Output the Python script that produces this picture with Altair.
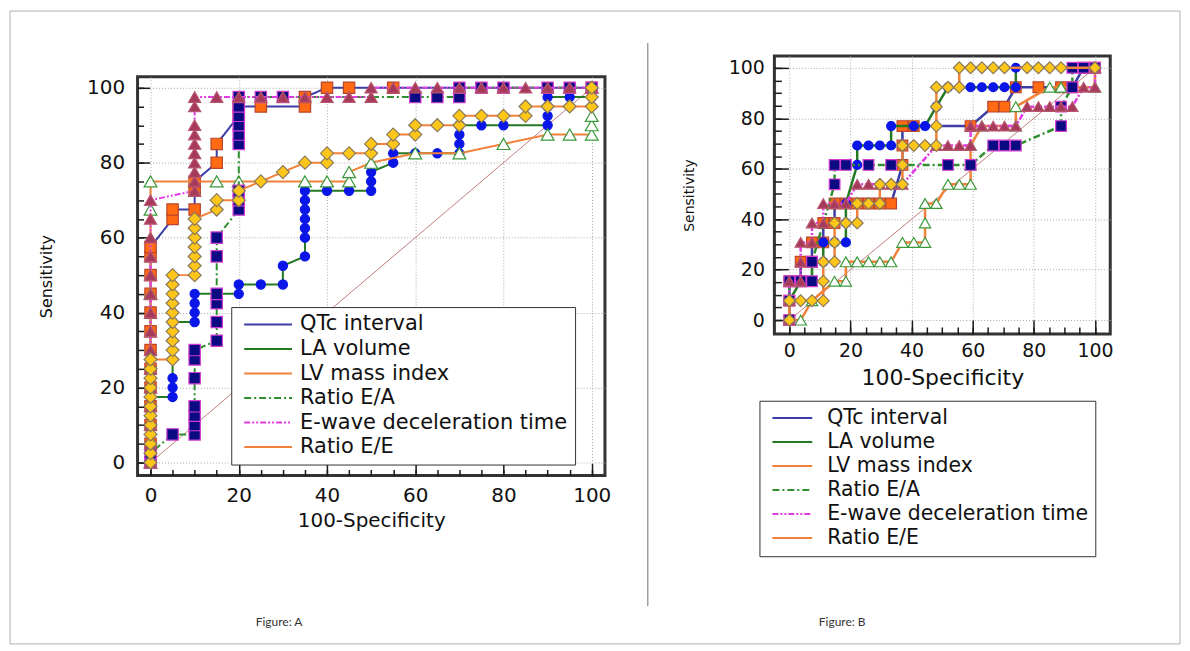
import altair as alt
import pandas as pd

FONT = "DejaVu Sans"
SERIES = ["QTc interval", "LA volume", "LV mass index", "Ratio E/A",
          "E-wave deceleration time", "Ratio E/E"]
LINE_COLORS = ["#3c3ca6", "#237a23", "#f2813a", "#2f8f2f", "#e33be3", "#f2813a"]
DASHES = [[1, 0], [1, 0], [1, 0], [7, 3, 2, 3], [6, 2, 2, 2, 2, 2], [1, 0]]
MAJOR_TICKS = [0, 20, 40, 60, 80, 100]
MINOR_TICKS = [0, 5, 10, 15, 20, 25, 30, 35, 40, 45, 50, 55, 60, 65, 70, 75, 80, 85, 90, 95, 100]
DIAG_X = [0, 100]
DIAG_Y = [0, 100]

# ---------------- Figure A ----------------
A_QTC_X = [0, 0, 0, 0, 0, 0, 0, 0, 0, 0, 0, 0, 0, 5, 5, 10, 10, 10, 15, 15, 20, 20, 25, 35, 35, 40, 45, 55, 100]
A_QTC_Y = [0, 5, 10, 15, 20, 25, 30, 35, 40, 45, 50, 55, 57.5, 65, 67.5, 67.5, 72.5, 75, 80, 85, 92.5, 95, 95, 95, 97.5, 100, 100, 100, 100]

A_LA_X = [0, 0, 5, 5, 5, 5, 10, 10, 10, 10, 15, 20, 20, 25, 30, 30, 35, 35, 35, 35, 35, 35, 35, 40, 45, 50, 50, 50,
          55, 55, 60, 65, 70, 70, 70, 70, 75, 80, 90, 90, 90, 90, 95, 100, 100]
A_LA_Y = [0, 17.5, 17.5, 20, 22.5, 37.5, 37.5, 40, 42.5, 45, 45, 45, 47.5, 47.5, 47.5, 52.5, 55, 60, 62.5, 65, 67.5, 70,
          72.5, 72.5, 72.5, 72.5, 75, 77.5, 80, 82.5, 82.5, 82.5, 82.5, 85, 87.5, 90, 90, 90, 90, 92.5, 95, 97.5, 97.5,
          97.5, 100]

A_LV_X = [0, 0, 0, 0, 15, 20, 35, 40, 45, 45, 50, 60, 70, 80, 90, 95, 100, 100, 100, 100]
A_LV_Y = [0, 45, 67.5, 75, 75, 75, 75, 75, 75, 77.5, 80, 82.5, 82.5, 85, 87.5, 87.5, 87.5, 90, 92.5, 100]

A_EA_X = [0, 0, 5, 10, 10, 10, 10, 10, 10, 10, 15, 15, 15, 15, 15, 15, 20, 20, 20, 20, 20, 20, 20, 20, 20, 25, 30, 60,
          65, 70, 70, 75, 80, 90, 95, 100]
A_EA_Y = [0, 2.5, 7.5, 7.5, 10, 12.5, 15, 22.5, 27.5, 30, 32.5, 37.5, 42.5, 45, 55, 60, 67.5, 70, 72.5, 85, 87.5, 90,
          92.5, 95, 97.5, 97.5, 97.5, 97.5, 97.5, 97.5, 100, 100, 100, 100, 100, 100]

A_EW_X = [0, 0, 0, 0, 0, 0, 0, 0, 0, 0, 0, 0, 0, 0, 0, 10, 10, 10, 10, 10, 10, 10, 10, 10, 10, 15, 20, 25, 30, 35, 40,
          45, 50, 50, 55, 60, 65, 70, 75, 80, 85, 90, 95, 100]
A_EW_Y = [0, 5, 10, 15, 20, 25, 30, 35, 40, 45, 50, 55, 60, 65, 70, 72.5, 75, 77.5, 80, 82.5, 85, 87.5, 90, 95, 97.5,
          97.5, 97.5, 97.5, 97.5, 97.5, 97.5, 97.5, 97.5, 100, 100, 100, 100, 100, 100, 100, 100, 100, 100, 100]

A_EE_X = [0, 0, 0, 0, 0, 0, 0, 0, 0, 0, 0, 0, 5, 5, 5, 5, 5, 5, 5, 5, 5, 5, 10, 10, 10, 10, 10, 10, 10, 15, 15, 20, 20,
          25, 30, 35, 40, 40, 45, 50, 50, 55, 55, 60, 60, 65, 70, 70, 75, 80, 85, 85, 90, 95, 100, 100, 100]
A_EE_Y = [0, 2.5, 5, 7.5, 10, 12.5, 15, 17.5, 20, 22.5, 25, 27.5, 27.5, 30, 32.5, 35, 37.5, 40, 42.5, 45, 47.5, 50, 50,
          52.5, 55, 57.5, 60, 62.5, 65, 67.5, 70, 70, 72.5, 75, 77.5, 80, 80, 82.5, 82.5, 82.5, 85, 85, 87.5, 87.5, 90,
          90, 90, 92.5, 92.5, 92.5, 92.5, 95, 95, 95, 95, 97.5, 100]

# ---------------- Figure B ----------------
B_QTC_X = [0, 0, 0, 3.7, 3.7, 7.4, 7.4, 11.1, 11.1, 14.8, 14.8, 18.5, 22.2, 25.9, 29.6, 33.3, 37.0, 37.0, 37.0, 40.7,
           59.3, 66.7, 70.4, 74.1, 81.5, 88.9, 92.6, 96.3, 100]
B_QTC_Y = [0, 7.7, 15.4, 15.4, 23.1, 23.1, 30.8, 30.8, 38.5, 38.5, 46.2, 46.2, 46.2, 46.2, 46.2, 46.2, 61.5, 69.2, 76.9,
           76.9, 76.9, 84.6, 84.6, 92.3, 92.3, 92.3, 92.3, 100, 100]

B_LA_X = [0, 0, 3.7, 7.4, 7.4, 11.1, 11.1, 14.8, 18.5, 18.5, 18.5, 22.2, 22.2, 25.9, 29.6, 33.3, 33.3, 40.7, 44.4,
          48.1, 51.9, 59.3, 63.0, 66.7, 70.4, 74.1, 74.1, 100]
B_LA_Y = [0, 7.7, 15.4, 15.4, 23.1, 23.1, 30.8, 30.8, 30.8, 38.5, 46.2, 61.5, 69.2, 69.2, 69.2, 69.2, 76.9, 76.9, 76.9,
          84.6, 92.3, 92.3, 92.3, 92.3, 92.3, 92.3, 100, 100]

B_LV_X = [0, 3.7, 7.4, 14.8, 18.5, 18.5, 22.2, 25.9, 29.6, 33.3, 37.0, 40.7, 44.4, 44.4, 44.4, 48.1, 51.9, 55.6, 59.3,
          59.3, 59.3, 63.0, 74.1, 74.1, 85.2, 88.9, 100, 100]
B_LV_Y = [0, 0, 7.7, 15.4, 15.4, 23.1, 23.1, 23.1, 23.1, 23.1, 30.8, 30.8, 30.8, 38.5, 46.2, 46.2, 53.8, 53.8, 53.8,
          61.5, 69.2, 76.9, 76.9, 84.6, 92.3, 92.3, 92.3, 100]

B_EA_X = [0, 0, 0, 3.7, 7.4, 7.4, 14.8, 14.8, 18.5, 25.9, 33.3, 51.9, 59.3, 66.7, 70.4, 74.1, 88.9, 88.9, 92.6, 92.6,
          96.3, 100]
B_EA_Y = [0, 7.7, 15.4, 15.4, 15.4, 23.1, 53.8, 61.5, 61.5, 61.5, 61.5, 61.5, 61.5, 69.2, 69.2, 69.2, 76.9, 84.6, 92.3,
          100, 100, 100]

B_EW_X = [0, 0, 0, 3.7, 3.7, 3.7, 7.4, 7.4, 11.1, 11.1, 14.8, 18.5, 22.2, 25.9, 29.6, 33.3, 37.0, 48.1, 51.9, 55.6,
          59.3, 59.3, 63.0, 66.7, 70.4, 74.1, 77.8, 81.5, 85.2, 88.9, 92.6, 96.3, 100, 100]
B_EW_Y = [0, 7.7, 15.4, 15.4, 23.1, 30.8, 30.8, 38.5, 38.5, 46.2, 46.2, 46.2, 53.8, 53.8, 53.8, 53.8, 53.8, 69.2, 69.2,
          69.2, 69.2, 76.9, 76.9, 76.9, 76.9, 76.9, 84.6, 84.6, 84.6, 84.6, 84.6, 92.3, 92.3, 100]

B_EE_X = [0, 0, 3.7, 7.4, 11.1, 11.1, 11.1, 14.8, 14.8, 14.8, 18.5, 22.2, 22.2, 25.9, 29.6, 29.6, 33.3, 37.0, 37.0,
          37.0, 40.7, 44.4, 48.1, 48.1, 48.1, 48.1, 51.9, 55.6, 55.6, 59.3, 63.0, 66.7, 70.4, 77.8, 81.5, 85.2, 88.9, 100]
B_EE_Y = [0, 7.7, 7.7, 7.7, 7.7, 15.4, 23.1, 23.1, 30.8, 38.5, 38.5, 38.5, 46.2, 46.2, 46.2, 53.8, 53.8, 53.8, 61.5,
          69.2, 69.2, 69.2, 69.2, 76.9, 84.6, 92.3, 92.3, 92.3, 100, 100, 100, 100, 100, 100, 100, 100, 100, 100]

MARKERS = [
    dict(shape="square", fill="#ff6a12", stroke="#b9452c"),
    dict(shape="circle", fill="#0a16e8", stroke="#0a16e8"),
    dict(shape="triangle-up", fill="#ffffff", stroke="#3a9a3a"),
    dict(shape="square", fill="#0a0a82", stroke="#d23cd2"),
    dict(shape="triangle-up", fill="#a63a5c", stroke="#b8566e"),
    dict(shape="diamond", fill="#ffc61a", stroke="#8a7a5a"),
]


def make_df(xs_list, ys_list):
    rows = []
    for s, xs, ys in zip(SERIES, xs_list, ys_list):
        for i, (x, y) in enumerate(zip(xs, ys)):
            rows.append({"series": s, "i": i, "x": x, "y": y})
    return pd.DataFrame(rows)


def build_panel(df, cfg, extras):
    xsc = alt.Scale(domain=cfg["xdom"], nice=False, zero=False)
    ysc = alt.Scale(domain=cfg["ydom"], nice=False, zero=False)
    common = dict(domain=False, tickColor="#1a1a1a", tickWidth=1.5)
    major_x = alt.Axis(orient="bottom", values=MAJOR_TICKS, tickSize=cfg["tmaj"], offset=-cfg["tmaj"],
                       labelFont=FONT, labelFontSize=cfg["lfs"], labelColor="#111", labelPadding=cfg["xlp"],
                       labelFlush=False, title="100-Specificity", titleFont=FONT, titleFontSize=cfg["xtfs"],
                       titleFontWeight="normal", titleColor="#111", titlePadding=cfg["xtp"],
                       grid=True, gridColor="#a8a8a8", gridDash=[1, 2], gridWidth=1, **common)
    major_y = alt.Axis(orient="left", values=MAJOR_TICKS, tickSize=cfg["tmaj"], offset=-cfg["tmaj"],
                       labelFont=FONT, labelFontSize=cfg["lfs"], labelColor="#111", labelPadding=cfg["ylp"],
                       labelFlush=False, title="Sensitivity", titleFont=FONT, titleFontSize=cfg["ytfs"],
                       titleFontWeight="normal", titleColor="#111", titlePadding=cfg["ytp"],
                       grid=True, gridColor="#a8a8a8", gridDash=[1, 2], gridWidth=1, **common)
    minor_x = alt.Axis(orient="bottom", values=MINOR_TICKS, tickSize=cfg["tmin"], offset=-cfg["tmin"],
                       labels=False, title=None, grid=False, **common)
    minor_y = alt.Axis(orient="left", values=MINOR_TICKS, tickSize=cfg["tmin"], offset=-cfg["tmin"],
                       labels=False, title=None, grid=False, **common)

    diag = pd.DataFrame({"x": DIAG_X, "y": DIAG_Y})
    layers = [
        alt.Chart(diag).mark_line(color="#c47c7c", strokeWidth=1).encode(
            x=alt.X("x:Q", scale=xsc, axis=major_x), y=alt.Y("y:Q", scale=ysc, axis=major_y)),
        alt.Chart(diag).mark_line(opacity=0).encode(
            x=alt.X("x:Q", scale=xsc, axis=minor_x), y=alt.Y("y:Q", scale=ysc, axis=minor_y)),
    ]
    legend = alt.Legend(title=None, orient="none", legendX=cfg["legx"], legendY=cfg["legy"],
                        symbolType=cfg["sympath"], symbolSize=100, symbolStrokeWidth=2,
                        labelFont=FONT, labelFontSize=cfg["legfs"], labelColor="#111", labelLimit=500,
                        labelOffset=cfg["labeloff"], padding=cfg["legpad"], rowPadding=cfg["rowpad"],
                        fillColor="white", strokeColor="#333333")
    base = alt.Chart(df)
    for k, s in enumerate(SERIES):
        sub = base.transform_filter(alt.datum.series == s)
        layers.append(sub.mark_line(strokeWidth=cfg["lw"]).encode(
            x=alt.X("x:Q", scale=xsc, axis=None),
            y=alt.Y("y:Q", scale=ysc, axis=None),
            stroke=alt.Stroke("series:N", scale=alt.Scale(domain=SERIES, range=LINE_COLORS), legend=legend),
            strokeDash=alt.StrokeDash("series:N", scale=alt.Scale(domain=SERIES, range=DASHES), legend=legend),
            order=alt.Order("i:Q"),
        ))
        m = MARKERS[k]
        layers.append(sub.mark_point(shape=m["shape"], filled=True, fill=m["fill"], stroke=m["stroke"],
                                     strokeWidth=1.2, size=cfg["msize"][k], opacity=1).encode(
            x=alt.X("x:Q", scale=xsc, axis=None),
            y=alt.Y("y:Q", scale=ysc, axis=None),
        ))
    layers.extend(extras)
    return alt.layer(*layers).resolve_axis(x="independent", y="independent").properties(
        width=cfg["w"], height=cfg["h"])


one = pd.DataFrame({"v": [0]})
extras_a = [
    alt.Chart(one).mark_rect(fillOpacity=0, stroke="#b0b0b0", strokeWidth=1).encode(
        x=alt.value(-128), x2=alt.value(1046), y=alt.value(-66), y2=alt.value(569)),
    alt.Chart(one).mark_rule(color="#707070", strokeWidth=1).encode(
        x=alt.value(512), y=alt.value(-34), y2=alt.value(531)),
    alt.Chart(one).mark_text(text="Figure: A", font="Lato", fontSize=12, color="#333").encode(
        x=alt.value(142), y=alt.value(547)),
    alt.Chart(one).mark_text(text="Figure: B", font="Lato", fontSize=12, color="#333").encode(
        x=alt.value(707), y=alt.value(547)),
]

cfg_a = dict(w=469, h=400, xdom=[-2.94, 103.0], ydom=[-3.46, 102.9], tmaj=12, tmin=6, lfs=20, xlp=10, ylp=13,
             xtfs=20, ytfs=16, xtp=5, ytp=32, lw=2, msize=[130, 85, 165, 130, 150, 170],
             legx=94, legy=252, sympath="M-0.9,0H8.7", legfs=21, labeloff=41, legpad=7, rowpad=2.6)
cfg_b = dict(w=337, h=279, xdom=[-4.9, 105.0], ydom=[-5.5, 104.7], tmaj=14, tmin=7, lfs=19, xlp=8, ylp=10,
             xtfs=22, ytfs=14, xtp=7, ytp=32, lw=2.5, msize=[115, 80, 130, 115, 125, 140],
             legx=-15, legy=346, sympath="M-0.85,0H7.15", legfs=20.5, labeloff=40.5, legpad=7, rowpad=3.1)

panel_a = build_panel(make_df([A_QTC_X, A_LA_X, A_LV_X, A_EA_X, A_EW_X, A_EE_X],
                              [A_QTC_Y, A_LA_Y, A_LV_Y, A_EA_Y, A_EW_Y, A_EE_Y]), cfg_a, extras_a)
panel_b = build_panel(make_df([B_QTC_X, B_LA_X, B_LV_X, B_EA_X, B_EW_X, B_EE_X],
                              [B_QTC_Y, B_LA_Y, B_LV_Y, B_EA_Y, B_EW_Y, B_EE_Y]), cfg_b, [])

spacer = alt.Chart(one).mark_point(opacity=0).properties(
    width=469, height=21, view=alt.ViewBackground(strokeOpacity=0))

col_a = alt.vconcat(spacer, panel_a, spacing=0, bounds="flush")

chart = alt.hconcat(col_a, panel_b, spacing=639, bounds="flush").resolve_scale(
    x="independent", y="independent", stroke="independent", strokeDash="independent"
).resolve_legend(stroke="independent", strokeDash="independent").configure_view(
    stroke="#333333", strokeWidth=3
).properties(padding=0)

chart.save("out.html", embed_options={"renderer": "svg", "actions": False})
